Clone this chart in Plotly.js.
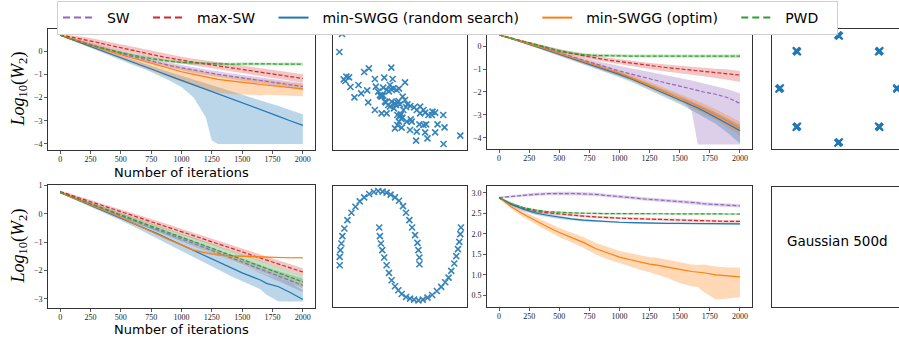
<!DOCTYPE html>
<html><head><meta charset="utf-8">
<script src="https://cdn.plot.ly/plotly-3.0.1.min.js"></script>
<style>html,body{margin:0;padding:0;background:#fff}#chart{width:899px;height:340px}</style>
</head><body><div id="chart"></div>
<script>
// ---------- iteration grid ----------
const iters = [0,100,200,300,400,500,600,700,800,900,1000,1100,1200,1250,1300,1400,1500,1600,1650,1700,1800,1900,2000];

// ---------- Panel A (top-left) ----------
const A_sw = [0.68,0.52,0.36,0.2,0.05,-0.1,-0.24,-0.37,-0.5,-0.62,-0.72,-0.82,-0.91,-0.96,-1.0,-1.08,-1.15,-1.22,-1.26,-1.3,-1.38,-1.46,-1.53];
const A_sw_sd = [0.02,0.04,0.05,0.06,0.07,0.08,0.09,0.1,0.1,0.11,0.11,0.12,0.12,0.12,0.13,0.13,0.13,0.14,0.14,0.14,0.15,0.15,0.15];
const A_max = [0.7,0.6,0.5,0.38,0.26,0.14,0.03,-0.08,-0.2,-0.3,-0.4,-0.48,-0.56,-0.6,-0.63,-0.7,-0.78,-0.86,-0.9,-0.94,-1.02,-1.1,-1.18];
const A_max_sd = [0.04,0.08,0.11,0.13,0.14,0.15,0.15,0.15,0.15,0.15,0.15,0.15,0.15,0.15,0.15,0.15,0.16,0.16,0.16,0.17,0.17,0.18,0.18];
const A_rnd = [0.68,0.49,0.29,0.1,-0.1,-0.29,-0.48,-0.68,-0.87,-1.07,-1.26,-1.45,-1.65,-1.75,-1.84,-2.04,-2.23,-2.42,-2.52,-2.62,-2.81,-3.01,-3.2];
const A_rnd_hi = [0.7,0.52,0.33,0.15,-0.04,-0.21,-0.38,-0.56,-0.73,-0.9,-1.06,-1.22,-1.38,-1.46,-1.54,-1.71,-1.87,-2.03,-2.12,-2.2,-2.37,-2.55,-2.72];
const A_rnd_lo = [0.66,0.45,0.24,0.03,-0.18,-0.4,-0.6,-0.78,-1.02,-1.27,-1.55,-2.0,-2.85,-3.85,-4,-4,-4,-4,-4,-4,-4,-4,-4];
const A_opt = [0.68,0.52,0.35,0.18,0.0,-0.17,-0.31,-0.45,-0.6,-0.75,-0.89,-1.0,-1.12,-1.18,-1.22,-1.28,-1.33,-1.4,-1.44,-1.47,-1.53,-1.58,-1.63];
const A_opt_hi = [0.71,0.56,0.4,0.24,0.08,-0.07,-0.2,-0.32,-0.45,-0.58,-0.7,-0.82,-0.92,-0.97,-1.0,-1.07,-1.12,-1.18,-1.21,-1.24,-1.3,-1.36,-1.42];
const A_opt_lo = [0.64,0.45,0.25,0.06,-0.13,-0.33,-0.52,-0.72,-0.93,-1.13,-1.33,-1.52,-1.68,-1.75,-1.8,-1.85,-1.87,-1.88,-1.9,-1.88,-1.9,-1.92,-1.95];
const A_pwd = [0.68,0.5,0.33,0.18,0.05,-0.07,-0.18,-0.28,-0.37,-0.44,-0.49,-0.52,-0.54,-0.55,-0.55,-0.56,-0.55,-0.56,-0.55,-0.55,-0.56,-0.55,-0.56];
const A_pwd_sd = [0.02,0.03,0.04,0.05,0.05,0.06,0.06,0.06,0.06,0.06,0.06,0.06,0.06,0.06,0.06,0.06,0.06,0.06,0.06,0.06,0.06,0.06,0.06];

// ---------- Panel B (top, third) ----------
const B_sw = [0.5,0.34,0.18,0.01,-0.15,-0.31,-0.47,-0.62,-0.77,-0.93,-1.08,-1.22,-1.36,-1.43,-1.5,-1.62,-1.74,-1.88,-1.95,-2.0,-2.1,-2.25,-2.5];
const B_sw_hi = [0.52,0.37,0.22,0.06,-0.09,-0.24,-0.38,-0.51,-0.63,-0.75,-0.86,-0.97,-1.07,-1.12,-1.17,-1.28,-1.39,-1.5,-1.56,-1.62,-1.74,-1.88,-2.05];
const B_sw_lo = [0.48,0.31,0.14,-0.04,-0.21,-0.38,-0.56,-0.73,-0.91,-1.1,-1.3,-1.47,-1.65,-1.74,-1.84,-2.02,-2.2,-2.85,-4.3,-4.3,-4.3,-4.3,-4.3];
const B_max = [0.5,0.36,0.21,0.06,-0.08,-0.2,-0.31,-0.42,-0.51,-0.6,-0.67,-0.75,-0.82,-0.85,-0.88,-0.94,-0.99,-1.04,-1.07,-1.09,-1.15,-1.2,-1.26];
const B_max_hi = [0.52,0.39,0.25,0.11,-0.02,-0.13,-0.23,-0.33,-0.41,-0.5,-0.56,-0.64,-0.7,-0.73,-0.75,-0.81,-0.85,-0.89,-0.92,-0.93,-0.98,-1.02,-1.08];
const B_max_lo = [0.48,0.33,0.17,0.01,-0.14,-0.27,-0.39,-0.51,-0.61,-0.71,-0.79,-0.88,-0.96,-1.0,-1.04,-1.11,-1.17,-1.24,-1.28,-1.31,-1.39,-1.46,-1.55];
const B_rnd = [0.5,0.34,0.17,0.0,-0.17,-0.35,-0.52,-0.7,-0.88,-1.05,-1.23,-1.43,-1.66,-1.77,-1.88,-2.1,-2.33,-2.58,-2.7,-2.83,-3.1,-3.4,-3.7];
const B_rnd_hi = [0.52,0.37,0.21,0.05,-0.11,-0.28,-0.44,-0.62,-0.79,-0.95,-1.13,-1.32,-1.54,-1.65,-1.75,-1.96,-2.18,-2.42,-2.53,-2.65,-2.9,-3.18,-3.45];
const B_rnd_lo = [0.48,0.31,0.13,-0.05,-0.23,-0.42,-0.6,-0.79,-0.98,-1.16,-1.35,-1.56,-1.8,-1.92,-2.04,-2.28,-2.53,-2.8,-2.94,-3.09,-3.4,-3.8,-4.25];
const B_opt = [0.5,0.35,0.19,0.03,-0.14,-0.31,-0.48,-0.66,-0.83,-1.0,-1.18,-1.38,-1.6,-1.71,-1.82,-2.03,-2.25,-2.49,-2.61,-2.73,-2.99,-3.28,-3.6];
const B_opt_hi = [0.52,0.38,0.23,0.08,-0.08,-0.24,-0.4,-0.57,-0.73,-0.89,-1.06,-1.25,-1.46,-1.56,-1.66,-1.86,-2.07,-2.29,-2.4,-2.51,-2.75,-3.01,-3.3];
const B_opt_lo = [0.48,0.32,0.15,-0.02,-0.2,-0.38,-0.56,-0.75,-0.93,-1.11,-1.3,-1.51,-1.74,-1.86,-1.98,-2.2,-2.43,-2.69,-2.82,-2.95,-3.23,-3.55,-3.9];
const B_pwd = [0.5,0.36,0.21,0.06,-0.08,-0.2,-0.3,-0.37,-0.4,-0.42,-0.42,-0.43,-0.43,-0.43,-0.43,-0.43,-0.43,-0.43,-0.43,-0.43,-0.43,-0.43,-0.43];
const B_pwd_sd = [0.02,0.03,0.04,0.05,0.06,0.07,0.07,0.07,0.07,0.07,0.07,0.07,0.07,0.07,0.07,0.07,0.07,0.07,0.07,0.07,0.07,0.07,0.07];

// ---------- Panel C (bottom-left) ----------
const C_sw = [0.75,0.59,0.42,0.26,0.1,-0.07,-0.23,-0.39,-0.56,-0.72,-0.89,-1.05,-1.21,-1.29,-1.38,-1.54,-1.7,-1.87,-1.95,-2.03,-2.19,-2.36,-2.52];
const C_sw_sd = [0.02,0.03,0.04,0.05,0.05,0.06,0.06,0.07,0.07,0.08,0.08,0.09,0.09,0.1,0.1,0.11,0.12,0.13,0.14,0.15,0.17,0.2,0.23];
const C_max = [0.78,0.64,0.5,0.36,0.21,0.07,-0.07,-0.21,-0.35,-0.49,-0.64,-0.78,-0.92,-0.99,-1.06,-1.2,-1.34,-1.49,-1.56,-1.63,-1.77,-1.91,-2.05];
const C_max_sd = [0.04,0.05,0.06,0.07,0.08,0.08,0.09,0.09,0.1,0.1,0.11,0.11,0.11,0.11,0.11,0.11,0.12,0.12,0.12,0.12,0.13,0.13,0.13];
const C_rnd = [0.75,0.57,0.39,0.22,0.04,-0.14,-0.32,-0.5,-0.7,-0.9,-1.1,-1.3,-1.5,-1.6,-1.7,-1.9,-2.08,-2.25,-2.33,-2.45,-2.57,-2.78,-3.02];
const C_rnd_hi = [0.78,0.61,0.44,0.28,0.11,-0.06,-0.23,-0.4,-0.58,-0.76,-0.93,-1.11,-1.29,-1.38,-1.47,-1.65,-1.82,-1.98,-2.05,-2.15,-2.28,-2.44,-2.68];
const C_rnd_lo = [0.72,0.53,0.34,0.15,-0.04,-0.24,-0.44,-0.64,-0.86,-1.08,-1.3,-1.52,-1.74,-1.85,-1.96,-2.18,-2.38,-2.56,-2.66,-2.85,-3.09,-3.09,-3.09];
const C_opt = [0.75,0.58,0.41,0.23,0.05,-0.13,-0.32,-0.52,-0.72,-0.92,-1.1,-1.28,-1.38,-1.42,-1.45,-1.48,-1.5,-1.52,-1.53,-1.53,-1.54,-1.55,-1.55];
const C_opt_sd = [0.03,0.03,0.03,0.03,0.03,0.03,0.03,0.03,0.03,0.03,0.03,0.03,0.03,0.03,0.03,0.03,0.03,0.03,0.03,0.03,0.03,0.03,0.03];
const C_pwd = [0.75,0.59,0.44,0.28,0.12,-0.04,-0.2,-0.35,-0.51,-0.67,-0.83,-0.98,-1.14,-1.22,-1.3,-1.46,-1.61,-1.77,-1.85,-1.93,-2.09,-2.24,-2.4];
const C_pwd_sd = [0.02,0.03,0.04,0.05,0.06,0.07,0.08,0.09,0.1,0.11,0.12,0.13,0.14,0.14,0.15,0.16,0.17,0.18,0.19,0.19,0.2,0.21,0.22];

// ---------- Panel D (bottom, third) ----------
const D_sw = [2.88,2.91,2.94,2.96,2.975,2.98,2.98,2.97,2.96,2.93,2.91,2.88,2.85,2.84,2.83,2.8,2.78,2.76,2.75,2.73,2.71,2.69,2.68];
const D_sw_sd = [0.02,0.03,0.03,0.04,0.04,0.04,0.04,0.04,0.04,0.04,0.04,0.04,0.04,0.04,0.04,0.04,0.04,0.04,0.04,0.04,0.04,0.04,0.04];
const D_max = [2.88,2.72,2.62,2.55,2.51,2.48,2.45,2.43,2.41,2.39,2.38,2.37,2.36,2.355,2.35,2.34,2.33,2.32,2.315,2.31,2.305,2.3,2.3];
const D_max_sd = [0.02,0.03,0.03,0.03,0.03,0.03,0.03,0.03,0.03,0.03,0.03,0.03,0.03,0.03,0.03,0.03,0.03,0.03,0.03,0.03,0.03,0.03,0.03];
const D_rnd = [2.88,2.72,2.6,2.51,2.45,2.4,2.36,2.33,2.31,2.29,2.28,2.27,2.26,2.26,2.255,2.25,2.25,2.245,2.245,2.24,2.24,2.24,2.24];
const D_rnd_sd = [0.02,0.05,0.05,0.05,0.04,0.04,0.03,0.03,0.03,0.02,0.02,0.02,0.02,0.02,0.02,0.02,0.02,0.02,0.02,0.02,0.02,0.02,0.02];
const D_opt = [2.88,2.66,2.48,2.32,2.17,2.03,1.91,1.79,1.64,1.53,1.43,1.36,1.29,1.26,1.24,1.18,1.13,1.08,1.07,1.05,1.0,0.98,0.95];
const D_opt_hi = [2.9,2.71,2.55,2.41,2.27,2.14,2.03,1.92,1.78,1.68,1.58,1.52,1.46,1.43,1.42,1.36,1.3,1.25,1.24,1.25,1.2,1.18,1.18];
const D_opt_lo = [2.86,2.61,2.41,2.23,2.07,1.92,1.79,1.66,1.5,1.38,1.28,1.19,1.1,1.06,1.02,0.92,0.8,0.72,0.7,0.58,0.4,0.42,0.45];
const D_pwd = [2.88,2.73,2.64,2.58,2.54,2.52,2.51,2.5,2.49,2.49,2.49,2.49,2.48,2.48,2.48,2.48,2.48,2.48,2.48,2.48,2.48,2.48,2.48];
const D_pwd_sd = [0.02,0.02,0.02,0.02,0.02,0.02,0.02,0.02,0.02,0.02,0.02,0.02,0.02,0.02,0.02,0.02,0.02,0.02,0.02,0.02,0.02,0.02,0.02];

// ---------- Scatter datasets ----------
const gaussX = [-1.73,-1.81,-0.26,-0.93,-1.07,-1.6,-1.68,-1.52,-1.63,-1.48,-1.24,-0.75,-0.47,-0.22,0.15,-1.36,-1.16,-0.98,-0.6,-0.54,-0.5,-0.4,-0.3,-0.27,-0.2,-0.1,-0.03,-0.33,-0.95,-0.75,-0.55,-0.4,-0.42,-0.35,-0.25,-0.15,-0.08,0.0,0.08,0.15,0.22,0.31,0.42,0.5,0.6,0.75,0.85,0.95,1.05,1.29,-0.08,-0.02,0.03,0.07,-0.03,-0.15,0.05,0.3,0.35,0.32,0.58,0.7,0.78,0.75,0.82,0.48,0.5,1.05,1.12,1.33,1.8,1.3,0.2,0.1,-0.18,-0.3,-0.45,-0.55,-0.65,-0.72,-0.58,-0.5,-0.12,-0.04,0.0,0.04,-0.08,0.18,0.6,0.7,0.97];
const gaussY = [1.73,1.19,0.72,0.7,0.59,0.45,0.37,0.43,0.32,0.14,0.2,0.38,0.42,0.38,0.28,-0.17,-0.05,0.04,-0.1,-0.12,0.12,0.05,0.2,0.08,0.1,0.05,0.09,0.01,-0.32,-0.55,-0.65,-0.65,-0.32,-0.4,-0.3,-0.35,-0.32,-0.38,-0.15,-0.25,-0.38,-0.43,-0.47,-0.55,-0.65,-0.63,-0.7,-0.7,-0.63,-0.7,-0.7,-0.75,-0.68,-0.78,-0.9,-1.1,-1.08,-1.15,-0.9,-0.83,-0.98,-1.0,-0.98,-1.22,-1.4,-1.47,-1.2,-1.22,-0.98,-1.07,-1.32,-1.57,-0.9,-0.55,-0.5,-0.45,-0.3,-0.15,0.0,0.15,-0.13,-0.12,-0.4,-0.28,-0.72,-0.82,-1.0,-0.46,-0.45,-0.55,-0.6];
const ringX = [0.0,0.02,0.707,0.69,1.0,1.0,0.707,0.69,0.0,0.02,-0.707,-0.69,-1.0,-0.98,-0.707,-0.69];
const ringY = [1.0,0.98,0.707,0.69,0.0,0.02,-0.707,-0.69,-1.0,-0.98,-0.707,-0.69,0.0,0.02,0.707,0.69];
const moonsX = [-1.8,-1.8,-1.78,-1.75,-1.72,-1.66,-1.57,-1.45,-1.33,-1.2,-1.07,-0.92,-0.78,-0.65,-0.52,-0.4,-0.28,-0.15,-0.03,0.09,0.18,0.28,0.36,0.45,0.52,0.55,0.58,0.58,
  -0.62,-0.6,-0.57,-0.53,-0.47,-0.4,-0.33,-0.25,-0.15,-0.05,0.05,0.18,0.3,0.42,0.55,0.68,0.82,0.96,1.1,1.23,1.35,1.45,1.53,1.62,1.68,1.73,1.77,1.8,1.82];
const moonsY = [-0.55,-0.3,-0.1,0.1,0.32,0.55,0.8,1.02,1.2,1.36,1.48,1.58,1.64,1.67,1.65,1.62,1.56,1.48,1.38,1.22,1.02,0.8,0.58,0.35,0.12,-0.1,-0.32,-0.52,
  0.58,0.32,0.1,-0.1,-0.32,-0.55,-0.78,-1.0,-1.18,-1.3,-1.41,-1.5,-1.55,-1.58,-1.6,-1.58,-1.52,-1.44,-1.32,-1.2,-1.06,-0.92,-0.72,-0.5,-0.28,-0.07,0.15,0.38,0.58];

// ---------- tick values ----------
const iterTicks = [0,250,500,750,1000,1250,1500,1750,2000];

// ---------- method styles ----------
const methods = [
  {key:'sw',  name:'SW', color:'#9467bd', fill:'rgba(148,103,189,0.32)', dash:'4px,2px'},
  {key:'max', name:'max-SW', color:'#d62728', fill:'rgba(214,39,40,0.27)', dash:'4px,2px'},
  {key:'rnd', name:'min-SWGG (random search)', color:'#1f77b4', fill:'rgba(31,119,180,0.3)', dash:'solid'},
  {key:'opt', name:'min-SWGG (optim)', color:'#ff7f0e', fill:'rgba(255,127,14,0.3)', dash:'solid'},
  {key:'pwd', name:'PWD', color:'#2ca02c', fill:'rgba(44,160,44,0.3)', dash:'4px,2px'}
];

const panels = [
  {xa:'x', ya:'y', d:{sw:{m:A_sw,sd:A_sw_sd}, max:{m:A_max,sd:A_max_sd}, rnd:{m:A_rnd,lo:A_rnd_lo,hi:A_rnd_hi}, opt:{m:A_opt,lo:A_opt_lo,hi:A_opt_hi}, pwd:{m:A_pwd,sd:A_pwd_sd}}},
  {xa:'x3', ya:'y3', d:{sw:{m:B_sw,lo:B_sw_lo,hi:B_sw_hi}, max:{m:B_max,lo:B_max_lo,hi:B_max_hi}, rnd:{m:B_rnd,lo:B_rnd_lo,hi:B_rnd_hi}, opt:{m:B_opt,lo:B_opt_lo,hi:B_opt_hi}, pwd:{m:B_pwd,sd:B_pwd_sd}}},
  {xa:'x5', ya:'y5', d:{sw:{m:C_sw,sd:C_sw_sd}, max:{m:C_max,sd:C_max_sd}, rnd:{m:C_rnd,lo:C_rnd_lo,hi:C_rnd_hi}, opt:{m:C_opt,sd:C_opt_sd}, pwd:{m:C_pwd,sd:C_pwd_sd}}},
  {xa:'x7', ya:'y7', d:{sw:{m:D_sw,sd:D_sw_sd}, max:{m:D_max,sd:D_max_sd}, rnd:{m:D_rnd,sd:D_rnd_sd}, opt:{m:D_opt,lo:D_opt_lo,hi:D_opt_hi}, pwd:{m:D_pwd,sd:D_pwd_sd}}}
];

const traces = [];
panels.forEach(p => {
  methods.forEach(me => {
    const s = p.d[me.key];
    const hi = s.hi || s.m.map((v,i)=>v+s.sd[i]);
    const lo = s.lo || s.m.map((v,i)=>v-s.sd[i]);
    traces.push({x: iters.concat(iters.slice().reverse()), y: hi.concat(lo.slice().reverse()),
      xaxis:p.xa, yaxis:p.ya, type:'scatter', mode:'lines', fill:'toself', fillcolor:me.fill,
      line:{width:0, color:me.fill}, hoverinfo:'skip', showlegend:false});
  });
  methods.forEach(me => {
    const s = p.d[me.key];
    traces.push({x: iters, y: s.m, xaxis:p.xa, yaxis:p.ya, type:'scatter', mode:'lines',
      line:{color:me.color, width:1.2, dash:me.dash}, name:me.name, showlegend:false});
  });
});

// scatter panels
const mk = (sz, lw) => ({symbol:'x-thin', size:sz, color:'#1f77b4', line:{width:lw, color:'#1f77b4'}});
traces.push({x:gaussX, y:gaussY, xaxis:'x2', yaxis:'y2', type:'scatter', mode:'markers', marker:mk(6,1.6), opacity:0.9, showlegend:false});
traces.push({x:ringX, y:ringY, xaxis:'x4', yaxis:'y4', type:'scatter', mode:'markers', marker:mk(7,2.2), showlegend:false});
traces.push({x:moonsX, y:moonsY, xaxis:'x6', yaxis:'y6', type:'scatter', mode:'markers', marker:mk(6,1.6), opacity:0.9, showlegend:false});
// empty frame panel (text only)
traces.push({x:[null], y:[null], xaxis:'x8', yaxis:'y8', type:'scatter', mode:'markers', showlegend:false, hoverinfo:'skip'});

// legend entries
const pad = '\u00a0\u00a0';
const tail = '\u00a0\u00a0\u00a0';
methods.forEach(me => {
  traces.push({x:[null], y:[null], xaxis:'x', yaxis:'y', type:'scatter', mode:'lines',
    name: pad + me.name + tail, line:{color:me.color, width:2, dash: me.dash === 'solid' ? 'solid' : '7px,4px'}, showlegend:true});
});

const W = 899, H = 340;
const SANS = 'DejaVu Sans, Verdana, sans-serif';
const SERIF = 'Liberation Serif, DejaVu Serif, serif';
const xd = (a,b) => [a/W, Math.min(1, b/W)];
const yd = (top,bot) => [1 - bot/H, 1 - top/H];
const tickFont = {family:SERIF, size:8, color:'#222'};
const frame = {showline:true, linecolor:'#333', linewidth:1, mirror:true, showgrid:false, zeroline:false};
const curveX = (dom, anchor) => Object.assign({}, frame, {domain:dom, anchor:anchor, range:[-100,2100], tickmode:'array', tickvals:iterTicks,
  ticks:'outside', ticklen:3, tickwidth:0.8, tickcolor:'#333', tickfont:tickFont, ticklabelstandoff:-2});
const curveY = (dom, anchor, range, dtick, fmt) => Object.assign({}, frame, {domain:dom, anchor:anchor, range:range, dtick:dtick, tick0:0,
  ticks:'outside', ticklen:3, tickwidth:0.8, tickcolor:'#333', tickfont:tickFont, tickformat:fmt||''});
const blankAx = (dom, anchor, range, mirror) => Object.assign({}, frame, {domain:dom, anchor:anchor, range:range, ticks:'', showticklabels:false, mirror:mirror});

const layout = {
  width:W, height:H, margin:{l:0,r:0,t:0,b:0}, paper_bgcolor:'#fff', plot_bgcolor:'#fff',
  showlegend:true,
  legend:{orientation:'h', x:57/W, xanchor:'left', y:1-1/H, yanchor:'top', bgcolor:'#fff', bordercolor:'#d0d0d0', borderwidth:1,
    font:{family:SANS, size:14, color:'#000'}, itemwidth:30, tracegroupgap:0},
  xaxis: curveX(xd(48,315), 'y'),
  yaxis: curveY(yd(29,150), 'x', [-4.26,0.95], 1),
  xaxis2: blankAx(xd(333,467), 'y2', [-2,2], true),
  yaxis2: blankAx(yd(29,150), 'x2', [-1.75,1.88], true),
  xaxis3: curveX(xd(487,752), 'y3'),
  yaxis3: curveY(yd(29,149), 'x3', [-4.495,0.757], 1),
  xaxis4: blankAx(xd(772,899), 'y4', [-1.119,1.034], true),
  yaxis4: blankAx(yd(29,149), 'x4', [-1.111,1.111], false),
  xaxis5: curveX(xd(48,315), 'y5'),
  yaxis5: curveY(yd(185,308), 'x5', [-3.317,1.01], 1),
  xaxis6: blankAx(xd(333,467), 'y6', [-2,2], true),
  yaxis6: blankAx(yd(186,307), 'x6', [-1.8,1.82], true),
  xaxis7: curveX(xd(487,752), 'y7'),
  yaxis7: curveY(yd(186,307), 'x7', [0.215,3.163], 0.5, '.1f'),
  xaxis8: blankAx(xd(772,899), 'y8', [0,1], true),
  yaxis8: blankAx(yd(187,307), 'x8', [0,1], false),
  annotations: [
    {text:'<i>Log</i><sub>10</sub>(<i>W</i><sub>2</sub>)', xref:'paper', yref:'paper', x:19/W, y:1-89.5/H, textangle:-90, showarrow:false,
      font:{family:SERIF, size:18, color:'#000'}, xanchor:'center', yanchor:'middle'},
    {text:'<i>Log</i><sub>10</sub>(<i>W</i><sub>2</sub>)', xref:'paper', yref:'paper', x:19/W, y:1-246.5/H, textangle:-90, showarrow:false,
      font:{family:SERIF, size:18, color:'#000'}, xanchor:'center', yanchor:'middle'},
    {text:'Number of iterations', xref:'paper', yref:'paper', x:181/W, y:1-172/H, showarrow:false,
      font:{family:SANS, size:13, color:'#000'}, xanchor:'center', yanchor:'middle'},
    {text:'Number of iterations', xref:'paper', yref:'paper', x:181/W, y:1-329/H, showarrow:false,
      font:{family:SANS, size:13, color:'#000'}, xanchor:'center', yanchor:'middle'},
    {text:'Gaussian 500d', xref:'paper', yref:'paper', x:837/W, y:1-241/H, showarrow:false,
      font:{family:SANS, size:13.5, color:'#000'}, xanchor:'center', yanchor:'middle'}
  ]
};

Plotly.newPlot('chart', traces, layout, {staticPlot:true, displayModeBar:false});
</script></body></html>
